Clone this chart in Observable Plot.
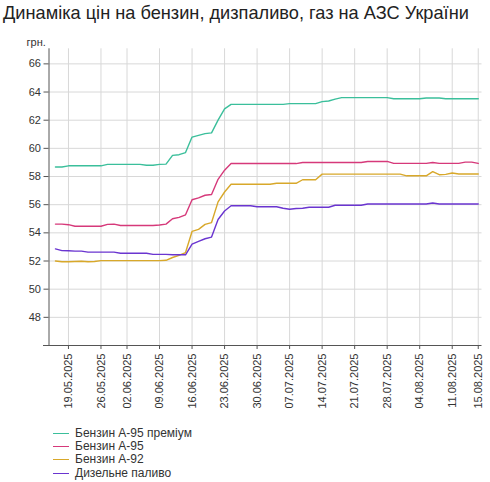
<!DOCTYPE html>
<html><head><meta charset="utf-8">
<script src="https://cdn.jsdelivr.net/npm/d3@7"></script>
<script src="https://cdn.jsdelivr.net/npm/@observablehq/plot@0.6"></script>
<style>
body{margin:0;background:#fff;font-family:"Liberation Sans",Arial,sans-serif;}
#title{height:30px;font-size:18.2px;line-height:27px;padding-left:3px;color:#222;white-space:nowrap;overflow:hidden;}
#chart svg{display:block;}
#legend{margin-left:53px;margin-top:11.7px;font-size:12px;color:#333;}
.row{height:13.3px;line-height:13.3px;display:flex;align-items:center;white-space:nowrap;}
.sw{width:16px;height:0;border-top:1.5px solid;margin-right:6px;}
</style></head><body>
<div id="title">Динаміка цін на бензин, дизпаливо, газ на АЗС України</div>
<div id="chart"></div>
<div id="legend"></div>
<script>
const dates = ["15.05.2025","16.05.2025","19.05.2025","20.05.2025","21.05.2025","22.05.2025","23.05.2025","26.05.2025","27.05.2025","28.05.2025","29.05.2025","02.06.2025","03.06.2025","04.06.2025","05.06.2025","06.06.2025","09.06.2025","10.06.2025","11.06.2025","12.06.2025","13.06.2025","16.06.2025","17.06.2025","18.06.2025","19.06.2025","20.06.2025","23.06.2025","24.06.2025","25.06.2025","26.06.2025","27.06.2025","30.06.2025","01.07.2025","02.07.2025","03.07.2025","04.07.2025","07.07.2025","08.07.2025","09.07.2025","10.07.2025","11.07.2025","14.07.2025","15.07.2025","16.07.2025","17.07.2025","18.07.2025","21.07.2025","22.07.2025","23.07.2025","24.07.2025","25.07.2025","28.07.2025","29.07.2025","30.07.2025","31.07.2025","01.08.2025","04.08.2025","05.08.2025","06.08.2025","07.08.2025","08.08.2025","11.08.2025","12.08.2025","13.08.2025","14.08.2025","15.08.2025"];

const premium95 = [58.68,58.68,58.76,58.76,58.76,58.76,58.76,58.76,58.86,58.86,58.86,58.86,58.86,58.86,58.8,58.8,58.86,58.88,59.5,59.55,59.7,60.8,60.92,61.05,61.1,62.0,62.8,63.12,63.12,63.12,63.12,63.12,63.12,63.12,63.12,63.12,63.18,63.18,63.18,63.18,63.18,63.32,63.36,63.5,63.6,63.6,63.6,63.6,63.6,63.6,63.6,63.6,63.52,63.52,63.52,63.52,63.52,63.58,63.58,63.58,63.52,63.52,63.52,63.52,63.52,63.52];

const a95 = [54.62,54.62,54.58,54.47,54.47,54.47,54.47,54.47,54.6,54.62,54.52,54.52,54.52,54.52,54.52,54.52,54.56,54.62,55.0,55.1,55.28,56.35,56.48,56.67,56.72,57.8,58.45,58.92,58.92,58.92,58.92,58.92,58.92,58.92,58.92,58.92,58.92,58.92,59.0,59.0,59.0,59.0,59.0,59.0,59.0,59.0,59.0,59.0,59.07,59.07,59.07,59.07,58.93,58.93,58.93,58.93,58.93,58.93,59.0,58.93,58.93,58.93,58.93,59.02,59.02,58.93];

const a92 = [52.0,51.95,51.95,51.97,51.98,51.95,51.97,52.03,52.03,52.03,52.03,52.03,52.03,52.03,52.03,52.03,52.03,52.05,52.25,52.4,52.6,54.1,54.25,54.6,54.73,56.2,56.9,57.45,57.45,57.45,57.45,57.45,57.45,57.45,57.52,57.52,57.52,57.52,57.77,57.77,57.77,58.17,58.17,58.17,58.17,58.17,58.17,58.17,58.17,58.17,58.17,58.17,58.17,58.17,58.05,58.05,58.05,58.05,58.35,58.13,58.15,58.25,58.18,58.18,58.18,58.18];

const diesel = [52.86,52.74,52.73,52.7,52.7,52.63,52.63,52.63,52.63,52.63,52.55,52.55,52.55,52.55,52.55,52.47,52.47,52.47,52.44,52.44,52.44,53.2,53.4,53.58,53.7,54.95,55.55,55.92,55.92,55.92,55.92,55.85,55.85,55.85,55.85,55.75,55.68,55.73,55.75,55.82,55.82,55.82,55.82,55.96,55.96,55.96,55.96,55.96,56.05,56.05,56.05,56.05,56.05,56.05,56.05,56.05,56.05,56.05,56.12,56.05,56.05,56.05,56.05,56.05,56.05,56.05];

const seriesNames = ["Бензин А-95 преміум","Бензин А-95","Бензин А-92","Дизельне паливо"];
const seriesColors = ["#3bbf9b","#d6397a","#d8a82a","#6a35d0"];
const xTicks = ["19.05.2025","26.05.2025","02.06.2025","09.06.2025","16.06.2025","23.06.2025","30.06.2025","07.07.2025","14.07.2025","21.07.2025","28.07.2025","04.08.2025","11.08.2025","15.08.2025"];
const yTicks = [48,50,52,54,56,58,60,62,64,66];
const yUnit = "грн.";

const allValues = [premium95, a95, a92, diesel];
const rows = [];
allValues.forEach((vals, k) => vals.forEach((v, i) => rows.push({date: dates[i], value: v, name: seriesNames[k]})));

const chart = Plot.plot({
  width: 490, height: 385,
  marginLeft: 48.5, marginRight: 8.5, marginTop: 18.3, marginBottom: 70,
  style: {fontFamily: "Liberation Sans, Arial, sans-serif", fontSize: "11px", color: "#333", background: "#fff"},
  x: {type: "point", domain: dates, range: [51.7, 481], label: null},
  y: {domain: [46, 67.07], label: null},
  color: {domain: seriesNames, range: seriesColors},
  marks: [
    Plot.gridX(xTicks, {stroke: "#d8d8d8", strokeOpacity: 1}),
    Plot.gridY(yTicks, {stroke: "#d8d8d8", strokeOpacity: 1}),
    Plot.axisX({ticks: xTicks, tickRotate: -90, tickSize: 4, tickPadding: 4, label: null, stroke: "#555", fill: "#333"}),
    Plot.axisY({ticks: yTicks, tickSize: 5, tickPadding: 3, label: null, stroke: "#555", fill: "#333"}),
    Plot.frame({anchor: "left", stroke: "#555"}),
    Plot.ruleY([46], {stroke: "#555", insetLeft: -5.5}),
    Plot.line(rows, {x: "date", y: "value", z: "name", stroke: "name", strokeWidth: 1.4}),
    Plot.text([yUnit], {frameAnchor: "top-left", textAnchor: "start", lineAnchor: "middle", dx: -22.5, dy: -6, fill: "#333", fontSize: 11})
  ]
});
document.getElementById("chart").appendChild(chart);

const legend = document.getElementById("legend");
seriesNames.forEach((n, k) => {
  const row = document.createElement("div");
  row.className = "row";
  const sw = document.createElement("span");
  sw.className = "sw";
  sw.style.borderTopColor = seriesColors[k];
  const t = document.createElement("span");
  t.textContent = n;
  row.appendChild(sw); row.appendChild(t);
  legend.appendChild(row);
});
</script>
</body></html>
